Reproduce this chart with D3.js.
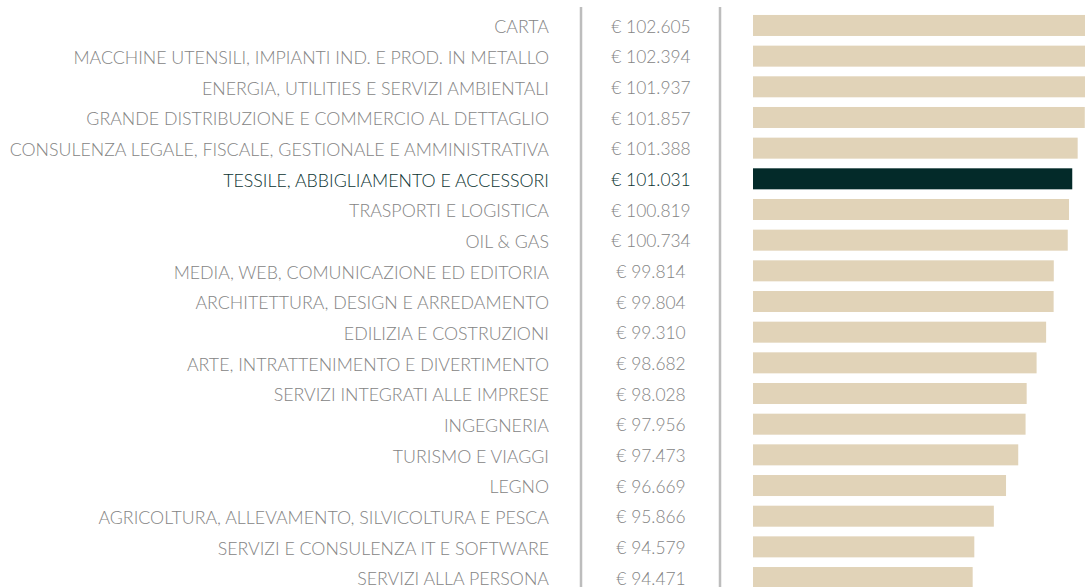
<!DOCTYPE html>
<html>
<head>
<meta charset="utf-8">
<script src="https://cdn.jsdelivr.net/npm/d3@7"></script>
<style>
  html, body { margin: 0; padding: 0; background: #fff; }
  #chart { width: 1085px; height: 587px; overflow: hidden; }
  text { font-family: Lato, "Open Sans", sans-serif; font-weight: 300; }
</style>
</head>
<body>
<div id="chart"></div>
<script>
var width = 1085;
var height = 587;

// settori e retribuzioni medie (migliaia di euro)
var sectors = [
  "CARTA",
  "MACCHINE UTENSILI, IMPIANTI IND. E PROD. IN METALLO",
  "ENERGIA, UTILITIES E SERVIZI AMBIENTALI",
  "GRANDE DISTRIBUZIONE E COMMERCIO AL DETTAGLIO",
  "CONSULENZA LEGALE, FISCALE, GESTIONALE E AMMINISTRATIVA",
  "TESSILE, ABBIGLIAMENTO E ACCESSORI",
  "TRASPORTI E LOGISTICA",
  "OIL & GAS",
  "MEDIA, WEB, COMUNICAZIONE ED EDITORIA",
  "ARCHITETTURA, DESIGN E ARREDAMENTO",
  "EDILIZIA E COSTRUZIONI",
  "ARTE, INTRATTENIMENTO E DIVERTIMENTO",
  "SERVIZI INTEGRATI ALLE IMPRESE",
  "INGEGNERIA",
  "TURISMO E VIAGGI",
  "LEGNO",
  "AGRICOLTURA, ALLEVAMENTO, SILVICOLTURA E PESCA",
  "SERVIZI E CONSULENZA IT E SOFTWARE",
  "SERVIZI ALLA PERSONA"
];
var values = [102.605, 102.394, 101.937, 101.857, 101.388, 101.031, 100.819, 100.734,
  99.814, 99.804, 99.310, 98.682, 98.028, 97.956, 97.473, 96.669, 95.866, 94.579, 94.471];
var highlight = "TESSILE, ABBIGLIAMENTO E ACCESSORI";

var rows = sectors.map(function(s, i) { return {name: s, value: values[i]}; });

var labelX = 549;
var valueX = 651;
var line1X = 581;
var line2X = 720;
var barX = 753;

var svg = d3.select("#chart")
            .append("svg")
            .attr("width", width)
            .attr("height", height);

var y = d3.scaleBand()
          .domain(sectors)
          .range([5.3, 597.7])
          .padding(0.315);

var x = d3.scaleLinear()
          .domain([80, 105])
          .range([barX, barX + 25 * 15.18]);

var fmt = function(v) { return "€ " + d3.format(".3f")(v); };

svg.append("g").selectAll("line")
   .data([line1X, line2X])
   .join("line")
   .attr("x1", function(d) { return d; })
   .attr("x2", function(d) { return d; })
   .attr("y1", 7)
   .attr("y2", height)
   .attr("stroke", "#bdbdbd")
   .attr("stroke-width", 2.5);

svg.append("g").selectAll("rect")
   .data(rows)
   .join("rect")
   .attr("x", x(80))
   .attr("y", function(d) { return y(d.name); })
   .attr("width", function(d) { return x(d.value) - x(80); })
   .attr("height", y.bandwidth())
   .attr("fill", function(d) { return d.name == highlight ? "#032a29" : "#e1d3b8"; });

svg.append("g").selectAll("text")
   .data(rows)
   .join("text")
   .attr("x", labelX)
   .attr("y", function(d) { return y(d.name) + y.bandwidth() / 2 + 0.8; })
   .attr("text-anchor", "end")
   .attr("dominant-baseline", "central")
   .attr("font-size", 17.8)
   .attr("fill", function(d) { return d.name == highlight ? "#0b3331" : "#848484"; })
   .text(function(d) { return d.name; });

svg.append("g").selectAll("text")
   .data(rows)
   .join("text")
   .attr("x", valueX)
   .attr("y", function(d) { return y(d.name) + y.bandwidth() / 2 + 0.8; })
   .attr("text-anchor", "middle")
   .attr("dominant-baseline", "central")
   .attr("font-size", 17.4)
   .attr("fill", function(d) { return d.name == highlight ? "#0b3331" : "#848484"; })
   .text(function(d) { return fmt(d.value); });
</script>
</body>
</html>
